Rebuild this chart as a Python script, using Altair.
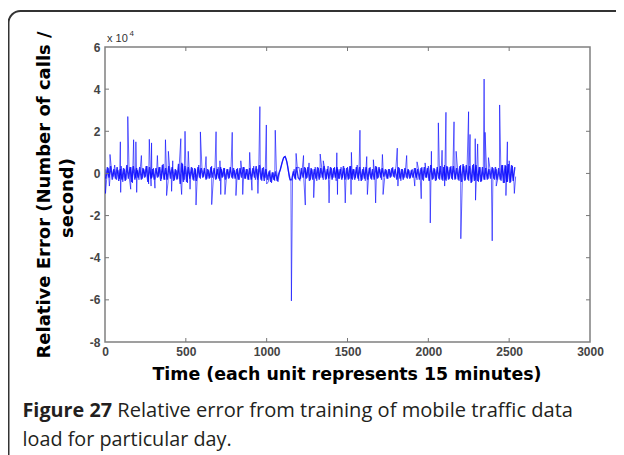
import altair as alt
import pandas as pd

# ---- data (values in units of 10^4 calls/second) ----
# trace sampled every 10 units starting at 0 (with the spikes merged in)
base_step = 10
base_vals = [
    0.2, -0.3, 0.25, -0.35, 0.2, -0.15, 0.4, -0.3, 0.15, -0.25,
    0.35, -0.4, 0.2, -0.3, 0.45, -0.2, 0.3, -0.45, 0.25, -0.2,
    0.15, -0.3, 0.4, -0.25, 0.2, -0.15, 0.35, -0.5, 0.3, -0.2,
    0.25, -0.35, 0.2, -0.15, 0.3, -0.25, 0.45, -0.3, 0.2, -0.4,
    0.3, -0.2, 0.25, -0.3, 0.15, -0.25, 0.5, -0.55, 0.45, -0.3,
    0.35, -0.45, 0.3, -0.2, 0.25, -0.35, 0.2, -0.3, 0.4, -0.25,
    0.2, -0.15, 0.3, -0.25, 0.15, -0.2, 0.35, -0.3, 0.2, -0.25,
    0.3, -0.35, 0.2, -0.15, 0.25, -0.3, 0.2, -0.2, 0.35, -0.25,
    0.15, -0.2, 0.25, -0.3, 0.2, -0.15, 0.3, -0.25, 0.2, -0.3,
    0.25, -0.2, 0.35, -0.3, 0.2, -0.25, 0.45, -0.35, 0.3, -0.2,
    0.1, -0.4, 0.15, -0.45, 0.05, -0.35, 0.2, -0.4, 0.05, 0.35,
    0.65, 0.82, 0.7, 0.35, -0.2, -0.35, -0.2, 0.2, -0.3, 0.25,
    0.3, -0.25, 0.2, -0.3, 0.25, -0.2, 0.35, -0.3, 0.2, -0.25,
    0.3, -0.35, 0.25, -0.2, 0.3, -0.3, 0.2, -0.25, 0.35, -0.3,
    0.25, -0.2, 0.3, -0.35, 0.2, -0.25, 0.3, -0.2, 0.25, -0.4,
    0.3, -0.25, 0.35, -0.3, 0.2, -0.2, 0.4, -0.35, 0.25, -0.3,
    0.3, -0.35, 0.25, -0.2, 0.3, -0.3, 0.2, -0.25, 0.3, -0.2,
    0.2, -0.3, 0.25, -0.2, 0.15, -0.25, 0.2, -0.15, 0.3, -0.2,
    0.35, -0.3, 0.25, -0.35, 0.2, -0.2, 0.3, -0.25, 0.15, -0.2,
    0.2, -0.15, 0.25, -0.3, 0.2, -0.25, 0.3, -0.35, 0.25, -0.2,
    0.35, -0.4, 0.3, -0.25, 0.2, -0.3, 0.35, -0.3, 0.25, -0.35,
    0.4, -0.35, 0.3, -0.25, 0.35, -0.3, 0.2, -0.25, 0.3, -0.35,
    0.4, -0.45, 0.35, -0.3, 0.4, -0.35, 0.3, -0.4, 0.45, -0.3,
    0.35, -0.4, 0.3, -0.35, 0.25, -0.3, 0.2, -0.25, 0.3, -0.2,
    0.25, -0.3, 0.2, -0.25, 0.3, -0.35, 0.4, -0.45, 0.35, -0.4,
    0.45, -0.4, 0.35, -0.5, -0.15,
]

# second overlapping strand of the dense band, sampled every 10 units from 5
band_start = 5
band_vals = [
    -0.25, 0.3, -0.2, 0.35, -0.3, 0.2, -0.25, 0.3, -0.35, 0.2,
    -0.3, 0.25, -0.35, 0.4, -0.25, 0.3, -0.4, 0.35, -0.3, 0.25,
    -0.2, 0.3, -0.3, 0.25, -0.2, 0.35, -0.4, 0.3, -0.25, 0.2,
    -0.3, 0.25, -0.2, 0.3, -0.35, 0.4, -0.3, 0.25, -0.3, 0.35,
    -0.25, 0.3, -0.35, 0.2, -0.3, 0.45, -0.5, 0.5, -0.4, 0.35,
    -0.4, 0.3, -0.25, 0.3, -0.3, 0.25, -0.35, 0.3, -0.2, 0.25,
    -0.2, 0.25, -0.3, 0.2, -0.25, 0.3, -0.2, 0.25, -0.3, 0.2,
    -0.25, 0.3, -0.2, 0.25, -0.3, 0.2, -0.25, 0.3, -0.2, 0.25,
    -0.25, 0.2, -0.3, 0.25, -0.2, 0.3, -0.25, 0.2, -0.3, 0.25,
    -0.3, 0.25, -0.2, 0.35, -0.3, 0.4, -0.3, 0.25, -0.35, 0.2,
    -0.3, 0.1, -0.4, 0.05, -0.3, 0.1, -0.35, 0.0, 0.2, 0.5,
    0.75, 0.8, 0.55, 0.1, -0.3, -0.3, 0.1, -0.25, 0.3, -0.2,
    -0.3, 0.25, -0.2, 0.3, -0.25, 0.3, -0.35, 0.25, -0.3, 0.2,
    -0.25, 0.3, -0.3, 0.25, -0.2, 0.35, -0.3, 0.2, -0.25, 0.3,
    -0.3, 0.25, -0.2, 0.3, -0.25, 0.2, -0.3, 0.35, -0.3, 0.25,
    -0.3, 0.35, -0.25, 0.2, -0.3, 0.3, -0.25, 0.3, -0.35, 0.2,
    -0.25, 0.3, -0.3, 0.25, -0.25, 0.2, -0.3, 0.35, -0.25, 0.3,
    -0.2, 0.25, -0.15, 0.2, -0.25, 0.2, -0.2, 0.25, -0.15, 0.2,
    -0.3, 0.3, -0.25, 0.2, -0.3, 0.25, -0.2, 0.2, -0.25, 0.15,
    -0.2, 0.25, -0.2, 0.2, -0.3, 0.25, -0.3, 0.3, -0.2, 0.25,
    -0.35, 0.4, -0.3, 0.25, -0.35, 0.3, -0.25, 0.35, -0.3, 0.3,
    -0.3, 0.35, -0.3, 0.3, -0.25, 0.35, -0.3, 0.25, -0.3, 0.35,
    -0.4, 0.45, -0.35, 0.4, -0.3, 0.35, -0.45, 0.4, -0.35, 0.4,
    -0.35, 0.3, -0.4, 0.3, -0.3, 0.25, -0.3, 0.2, -0.25, 0.3,
    -0.25, 0.3, -0.3, 0.25, -0.3, 0.4, -0.45, 0.4, -0.4, 0.45,
    -0.45, 0.4, -0.35, 0.3,
]

up_t = [31, 95, 141, 177, 191, 225, 274, 288, 324, 374, 392, 419, 469, 495,
        515, 590, 625, 687, 711, 787, 840, 895, 958, 998, 1053, 1182, 1228,
        1262, 1331, 1350, 1434, 1524, 1577, 1619, 1660, 1716, 1808, 1866,
        1930, 1980, 2019, 2062, 2085, 2109, 2159, 2172, 2249, 2258, 2290,
        2305, 2345, 2351, 2372, 2441, 2489, 2500]
up_v = [0.9, 1.5, 2.7, 1.6, 1.5, 0.85, 1.62, 1.45, 0.85, 1.6, 1.05, 0.6, 1.65, 2.0,
        1.05, 1.97, 0.8, 1.98, 0.6, 1.95, 0.6, 1.0, 3.17, 2.3, 2.05, 0.95, 0.85,
        0.5, 0.92, 0.6, 0.98, 1.0, 2.05, 0.8, 0.65, 0.9, 1.2, 0.85,
        0.55, 0.5, 1.05, 2.4, 1.1, 2.9, 2.45, 1.05, 2.93, 1.85, 1.65,
        1.4, 4.48, 1.95, 0.75, 3.25, 1.5, 0.6]

down_t = [3, 27, 97, 159, 196, 285, 309, 381, 412, 474, 526, 563, 660, 716,
          742, 810, 852, 909, 946, 1000, 1153, 1239, 1291, 1386, 1438, 1486,
          1522, 1623, 1674, 1720, 1812, 1916, 1956, 2012, 2101, 2201, 2292,
          2395, 2420, 2480, 2532]
down_v = [-0.95, -0.6, -0.9, -0.75, -0.9, -0.6, -0.7, -1.05, -0.85, -1.0, -0.75, -1.5, -1.48, -1.0,
          -1.0, -1.05, -1.0, -0.8, -0.95, -0.5, -6.05, -1.5, -1.15, -1.4, -1.0, -1.4,
          -1.0, -1.0, -1.4, -1.0, -0.6, -0.6, -1.2, -2.35, -0.6, -3.1, -1.27,
          -3.2, -0.6, -1.05, -0.95]

x_ticks = [0, 500, 1000, 1500, 2000, 2500, 3000]
y_ticks = [-8, -6, -4, -2, 0, 2, 4, 6]

# ---- build tables ----
rows = [(i * base_step, v) for i, v in enumerate(base_vals)]
rows += list(zip(up_t, up_v)) + list(zip(down_t, down_v))
rows.sort(key=lambda r: r[0])
df = pd.DataFrame(rows, columns=["t", "v"])
df["i"] = range(len(df))

band = pd.DataFrame({
    "t": [band_start + i * base_step for i in range(len(band_vals))],
    "v": band_vals,
})
band["i"] = range(len(band))

W, H = 485, 295
xs = alt.Scale(domain=[0, 3000], nice=False, zero=False)
ys = alt.Scale(domain=[-8, 6], nice=False, zero=False)
one = alt.Data(values=[{"k": 0}])

x_axis = alt.Axis(
    values=x_ticks, title="", domain=False, ticks=False, grid=False,
    labelExpr="'' + datum.value",
    labelFont="Liberation Sans", labelFontSize=12, labelFontWeight="bold",
    labelColor="#444444", labelPadding=4, labelFlush=False)
y_axis = alt.Axis(
    values=y_ticks, title="", domain=False, ticks=False, grid=False,
    labelExpr="'' + datum.value",
    labelFont="Liberation Sans", labelFontSize=12, labelFontWeight="bold",
    labelColor="#444444", labelPadding=5, labelFlush=False)

line = alt.Chart(df).mark_line(
    color="#0000ff", strokeWidth=1, opacity=0.6, clip=True
).encode(
    x=alt.X("t:Q", scale=xs, axis=x_axis),
    y=alt.Y("v:Q", scale=ys, axis=y_axis),
    order="i:Q",
)

line2 = alt.Chart(band).mark_line(
    color="#0000ff", strokeWidth=1.4, opacity=0.8, clip=True
).encode(
    x=alt.X("t:Q", scale=xs, axis=x_axis),
    y=alt.Y("v:Q", scale=ys, axis=y_axis),
    order="i:Q",
)

frame = alt.Chart(one).mark_rect(
    fill="#ffffff", fillOpacity=0, stroke="#333333", strokeWidth=2, cornerRadius=12
).encode(x=alt.value(-96.5), x2=alt.value(560), y=alt.value(-36), y2=alt.value(460))

txd = pd.DataFrame({"t": x_ticks[1:-1]})
tyd = pd.DataFrame({"v": y_ticks[1:-1]})
tick_style = dict(color="#777777", strokeWidth=1)
bottom_ticks = alt.Chart(txd).mark_rule(**tick_style).encode(
    x=alt.X("t:Q", scale=xs, axis=x_axis), y=alt.value(H), y2=alt.value(H - 4))
top_ticks = alt.Chart(txd).mark_rule(**tick_style).encode(
    x=alt.X("t:Q", scale=xs, axis=x_axis), y=alt.value(0), y2=alt.value(4))
left_ticks = alt.Chart(tyd).mark_rule(**tick_style).encode(
    y=alt.Y("v:Q", scale=ys, axis=y_axis), x=alt.value(0), x2=alt.value(4))
right_ticks = alt.Chart(tyd).mark_rule(**tick_style).encode(
    y=alt.Y("v:Q", scale=ys, axis=y_axis), x=alt.value(W), x2=alt.value(W - 4))


def label(text, x, y, size, weight="normal", angle=0, align="left",
          baseline="middle", font="Liberation Sans", color="#000000"):
    return alt.Chart(one).mark_text(
        text=text, fontSize=size, fontWeight=weight, angle=angle, align=align,
        baseline=baseline, font=font, color=color
    ).encode(x=alt.value(x), y=alt.value(y))


texts = [
    label("x 10", 2, -8, 11, color="#333333"),
    label("4", 24.5, -13, 8, color="#333333"),
    label("Relative Error (Number of calls /", -60, 148, 18, "bold", 270, "center",
          font="DejaVu Sans"),
    label("second)", -37, 151, 18, "bold", 270, "center", font="DejaVu Sans"),
    label("Time (each unit represents 15 minutes)", 242, 328, 17.4, "bold", 0, "center",
          font="DejaVu Sans"),
    label("Figure 27", -82.5, 369.5, 19.8, "bold", baseline="alphabetic",
          font="Open Sans", color="#231f20"),
    label("Relative error from training of mobile traffic data", 12.3, 369.5, 20.1,
          baseline="alphabetic", font="Open Sans", color="#231f20"),
    label("load for particular day.", -82.5, 399, 19.8, baseline="alphabetic",
          font="Open Sans", color="#231f20"),
]

chart = alt.layer(
    line, line2, bottom_ticks, top_ticks, left_ticks, right_ticks, frame, *texts
).properties(
    width=W, height=H,
    autosize=alt.AutoSizeParams(type="none"),
    padding={"left": 97, "top": 39, "right": 26, "bottom": 113},
    background="#ffffff",
).configure_view(stroke="#808080", strokeWidth=1.5)

chart.save("out.html", embed_options={"renderer": "svg", "actions": False})
